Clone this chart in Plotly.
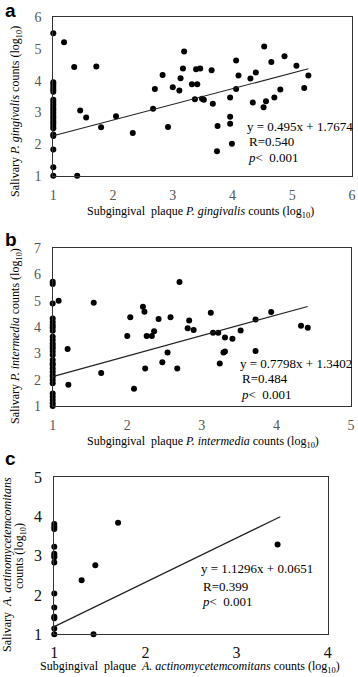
import plotly.graph_objects as go

W, H = 358, 677

# ---------------- data ----------------
# Panel a: P. gingivalis
a_x = [1]*24 + [1.18, 1.35, 1.40, 1.45, 1.55, 1.72, 1.80, 2.05, 2.33, 2.67, 2.70, 2.83, 2.92, 3.00,
                3.11, 3.13, 3.17, 3.19, 3.32, 3.37, 3.39, 3.41, 3.46, 3.49, 3.52, 3.65, 3.67, 3.74,
                3.75, 3.96, 3.96, 3.96, 3.99, 4.06, 4.06, 4.10, 4.30, 4.34, 4.39, 4.52, 4.53, 4.56,
                4.65, 4.70, 4.80, 4.87, 5.07, 5.20, 5.27]
a_y = [5.5, 3.95, 3.88, 3.8, 3.72, 3.65, 3.4, 3.33, 3.25, 3.17, 3.1, 3.02, 2.95, 2.87, 2.8, 2.72,
       2.65, 2.57, 2.5, 2.3, 2.25, 1.83, 1.27, 1.0] + \
      [5.21, 4.43, 1.0, 3.06, 2.84, 4.45, 2.53, 2.88, 2.35, 3.11, 3.74, 4.18, 2.54, 3.79,
       3.69, 4.08, 4.38, 4.92, 3.89, 3.41, 4.36, 3.89, 4.38, 3.43, 3.40, 4.33, 3.27, 1.77,
       2.57, 3.47, 2.86, 2.64, 2.01, 4.64, 3.74, 4.16, 4.07, 3.31, 4.26, 3.16, 5.08, 3.35,
       4.59, 3.47, 3.72, 4.77, 4.47, 3.77, 4.16]

# Panel b: P. intermedia
b_x = [1]*29 + [1.08, 1.20, 1.21, 1.55, 1.65, 2.00, 2.04, 2.09, 2.21, 2.23, 2.24, 2.26, 2.33, 2.36,
                2.42, 2.47, 2.54, 2.58, 2.67, 2.70, 2.81, 2.83, 2.89, 3.12, 3.15, 3.22, 3.24, 3.29,
                3.31, 3.31, 3.41, 3.52, 3.72, 3.72, 3.93, 4.33, 4.42]
b_y = [5.73, 5.64, 4.9, 4.33, 4.2, 4.08, 3.99, 3.86, 3.63, 3.51, 3.38, 3.28, 3.19, 3.06, 2.94,
       2.75, 2.62, 2.56, 2.43, 2.3, 2.18, 2.11, 1.99, 1.87, 1.48, 1.35, 1.23, 1.1, 1.0] + \
      [5.0, 3.17, 1.81, 4.93, 2.26, 3.66, 4.38, 1.66, 4.78, 4.59, 2.43, 3.66, 3.66, 3.84,
       4.31, 2.66, 3.04, 4.38, 2.43, 5.72, 3.96, 4.25, 3.89, 4.55, 3.79, 3.79, 2.62, 3.04,
       3.07, 3.61, 3.56, 3.87, 4.29, 3.09, 4.58, 4.05, 3.98]

# Panel c: A. actinomycetemcomitans
c_x = [1]*14 + [1.30, 1.45, 1.43, 1.70, 3.45]
c_y = [3.81, 3.74, 3.68, 3.23, 3.05, 3.0, 2.96, 2.83, 2.04, 1.68, 1.45, 1.41, 1.15, 1.0] + \
      [2.38, 2.76, 1.0, 3.84, 3.29]

slopes = [0.495, 0.7798, 1.1296]
intercepts = [1.7674, 1.3402, 0.0651]
line_x_ends = [[1, 5.27], [1, 4.42], [1, 3.48]]

x_ranges = [[1, 6], [1, 5], [1, 4]]
y_ranges = [[1, 6], [1, 7], [1, 5]]

eq_texts = ["y = 0.495x + 1.7674", "y = 0.7798x + 1.3402", "y = 1.1296x + 0.0651"]
r_texts = ["R=0.540", "R=0.484", "R=0.399"]
p_text = "<i>p</i>< \u00a00.001"

x_titles = ["Subgingival \u00a0plaque <i>P. gingivalis</i> counts (log<sub>10</sub>)",
            "Subgingival \u00a0plaque <i>P. intermedia</i> counts (log<sub>10</sub>)",
            "Subgingival \u00a0plaque \u00a0<i>A. actinomycetemcomitans</i> counts (log<sub>10</sub>)"]
panel_labels = ["a", "b", "c"]

# ---------------- layout geometry (pixels) ----------------
boxes = [  # left, right, top, bottom
    (53.3, 352.0, 17.3, 175.7),
    (52.7, 351.0, 248.3, 406.0),
    (54.3, 327.7, 477.3, 634.3),
]

def px(x):
    return x / W

def py(y):
    return 1 - y / H

SERIF = "Liberation Serif, Times New Roman, serif"

fig = go.Figure()
datasets = [(a_x, a_y), (b_x, b_y), (c_x, c_y)]
for i, (xs, ys) in enumerate(datasets):
    n = "" if i == 0 else str(i + 1)
    fig.add_trace(go.Scatter(x=xs, y=ys, mode="markers", xaxis="x" + n, yaxis="y" + n,
                             marker=dict(color="black", size=6), showlegend=False,
                             hoverinfo="skip", cliponaxis=False))
    lx = line_x_ends[i]
    ly = [slopes[i] * v + intercepts[i] for v in lx]
    fig.add_trace(go.Scatter(x=lx, y=ly, mode="lines", xaxis="x" + n, yaxis="y" + n,
                             line=dict(color="#222", width=1.2), showlegend=False,
                             hoverinfo="skip"))

layout = dict(width=W, height=H, margin=dict(l=0, r=0, t=0, b=0, autoexpand=False),
              paper_bgcolor="white", plot_bgcolor="white", showlegend=False)

tick_font = [dict(family=SERIF, size=14, color="#555"),
             dict(family=SERIF, size=14, color="#555"),
             dict(family=SERIF, size=16, color="#111")]
x_standoff = [6, 6, 3]

for i in range(3):
    l, r, t, b = boxes[i]
    n = "" if i == 0 else str(i + 1)
    axis_common = dict(showline=True, linecolor="#333", linewidth=1, mirror=True,
                       showgrid=False, zeroline=False, ticks="", tickfont=tick_font[i])
    layout["xaxis" + n] = dict(domain=[px(l), px(r)], range=x_ranges[i], dtick=1,
                               anchor="y" + n, ticklabelstandoff=x_standoff[i], **axis_common)
    layout["yaxis" + n] = dict(domain=[py(b), py(t)], range=y_ranges[i], dtick=1,
                               anchor="x" + n, ticklabelstandoff=8, **axis_common)

fig.update_layout(**layout)

ann = []
# panel letters
for lbl, yy in zip(panel_labels, [10, 239, 458]):
    ann.append(dict(text="<b>%s</b>" % lbl, x=px(3), y=py(yy), xref="paper", yref="paper",
                    xanchor="left", yanchor="middle", showarrow=False,
                    font=dict(family="Liberation Sans, Arial, sans-serif", size=19, color="black")))

# stats text
stat_pos = [(245, 126, 141, 157), (238, 363, 378, 394), (199, 568, 586, 601)]
for i, (sx, y1, y2, y3) in enumerate(stat_pos):
    f = dict(family=SERIF, size=13, color="black")
    ann.append(dict(text=eq_texts[i], x=px(sx), y=py(y1), xref="paper", yref="paper",
                    xanchor="left", yanchor="middle", showarrow=False, font=f))
    ann.append(dict(text=r_texts[i], x=px(sx + 2), y=py(y2), xref="paper", yref="paper",
                    xanchor="left", yanchor="middle", showarrow=False, font=f))
    ann.append(dict(text=p_text, x=px(sx + 1), y=py(y3), xref="paper", yref="paper",
                    xanchor="left", yanchor="middle", showarrow=False, font=f))

# x titles
for i, (cx, cy) in enumerate([(200, 212), (203, 442), (190, 667)]):
    ann.append(dict(text=x_titles[i], x=px(cx), y=py(cy), xref="paper", yref="paper",
                    xanchor="center", yanchor="middle", showarrow=False,
                    font=dict(family=SERIF, size=12, color="black")))

# y titles
ytitles = [("Salivary <i>P. gingivalis</i> counts (log<sub>10</sub>)", 16, 112),
           ("Salivary <i>P. intermedia</i> counts (log<sub>10</sub>)", 16, 336),
           ("Salivary \u00a0<i>A. actinomycetemcomitans</i>", 7, 565),
           ("counts (log<sub>10</sub>)", 20, 556)]
for txt, cx, cy in ytitles:
    ann.append(dict(text=txt, x=px(cx), y=py(cy), xref="paper", yref="paper",
                    xanchor="center", yanchor="middle", showarrow=False, textangle=-90,
                    font=dict(family=SERIF, size=12, color="black")))

fig.update_layout(annotations=ann)
fig.write_html("out.html",
               config={"displayModeBar": False, "staticPlot": True},
               post_script="document.documentElement.style.margin='0';"
                           "document.body.style.margin='0';"
                           "document.body.style.overflow='hidden';")
